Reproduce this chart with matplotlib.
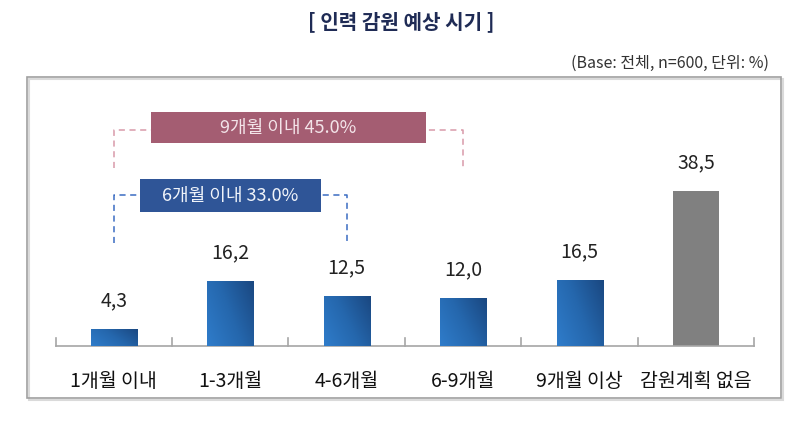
import matplotlib
matplotlib.use("Agg")
import matplotlib.pyplot as plt
import numpy as np
from matplotlib.patches import Rectangle
from matplotlib.colors import LinearSegmentedColormap

plt.rcParams['font.family'] = ['Noto Sans CJK KR', 'DejaVu Sans']

categories = ['1개월 이내', '1-3개월', '4-6개월', '6-9개월', '9개월 이상', '감원계획 없음']
values = [4.3, 16.2, 12.5, 12.0, 16.5, 38.5]
value_labels = ['4,3', '16,2', '12,5', '12,0', '16,5', '38,5']
title = '[ 인력 감원 예상 시기 ]'
note = '(Base: 전체, n=600, 단위: %)'
group9_label = '9개월 이내 45.0%'
group6_label = '6개월 이내 33.0%'

W, H = 803, 423
fig = plt.figure(figsize=(W / 100, H / 100), dpi=100)

def fx(px):
    return px / W

def fy(py):
    return 1 - py / H

# outer frame with soft shadow
frame_shadow = Rectangle((fx(29), fy(400)), fx(781) - fx(27), fy(77) - fy(398),
                         transform=fig.transFigure, fill=False, edgecolor='#DADADA', lw=1.5)
fig.patches.append(frame_shadow)
frame = Rectangle((fx(27), fy(398)), fx(781) - fx(27), fy(77) - fy(398),
                  transform=fig.transFigure, fill=False, edgecolor='#A0A0A0', lw=1.2)
fig.patches.append(frame)

# axes: baseline at y=346, x from 55.5 to 754.3
ax_left, ax_right = 55.5, 754.3
ax_bottom, ax_top = 346, 100
ax = fig.add_axes([fx(ax_left), fy(ax_bottom), fx(ax_right) - fx(ax_left), fy(ax_top) - fy(ax_bottom)])
ppu = 4.03
ax.patch.set_alpha(0)
for s in ['top', 'right', 'left']:
    ax.spines[s].set_visible(False)
ax.spines['bottom'].set_color('#A6A6A6')
ax.spines['bottom'].set_linewidth(1.2)
ax.set_yticks([])
ax.set_xticks([])

x = np.arange(len(values))
colors = ['#2E75C0'] * 5 + ['#808080']
bars = ax.bar(x, values, width=0.395, color=colors, edgecolor='none', zorder=2)

# gradient fill for blue bars
gx, gy = np.meshgrid(np.linspace(0, 1, 60), np.linspace(0, 1, 60))
grad = 0.65 * gx + 0.35 * gy
cmap = LinearSegmentedColormap.from_list('bb', ['#2F7CCA', '#2567AD', '#1A4780'])
for i, b in enumerate(bars):
    if i == 5:
        continue
    x0, w, h = b.get_x(), b.get_width(), b.get_height()
    im = ax.imshow(grad, cmap=cmap, extent=[x0, x0 + w, 0, h], origin='lower',
                   aspect='auto', zorder=3, interpolation='bilinear')
    im.set_clip_path(b)
ax.set_xlim(-0.5, len(values) - 0.5)
ax.set_ylim(0, (ax_bottom - ax_top) / ppu)

# ticks (upward) between categories
for t in np.arange(-0.5, len(values), 1.0):
    ax.plot([t, t], [0, 8 / ppu], color='#A6A6A6', lw=1.2, clip_on=False, zorder=1)

# value labels
for i, v in enumerate(values):
    ax.text(i, v + 28 / ppu, value_labels[i], ha='center', va='center', fontsize=14, color='#222222')

# category labels
for i, c in enumerate(categories):
    fig.text(fx(ax_left + (i + 0.5) * (ax_right - ax_left) / len(values)), fy(381), c,
             ha='center', va='center', fontsize=14, color='#111111')

def px2x(px):
    return (px - 113.7) / 116.5

def py2y(py):
    return (ax_bottom - py) / ppu

# 9-month bracket
pink = '#D99AAA'
yb = py2y(130)
ax.plot([0, 0, 3, 3], [py2y(168), yb, yb, py2y(168)], color=pink, lw=1.1, ls=(0, (4, 3)), zorder=1, clip_on=False)
ax.add_patch(Rectangle((px2x(151), py2y(143)), px2x(426) - px2x(151), py2y(112) - py2y(143),
                       facecolor='#A45D72', edgecolor='none', zorder=4))
ax.text((px2x(151) + px2x(426)) / 2, py2y(128), group9_label, ha='center', va='center',
        fontsize=13, color='#F3E4E9', zorder=5)

# 6-month bracket
blue = '#3B6CC2'
yb = py2y(195)
ax.plot([0, 0, 2, 2], [py2y(243), yb, yb, py2y(243)], color=blue, lw=1.1, ls=(0, (4, 3)), zorder=1, clip_on=False)
ax.add_patch(Rectangle((px2x(140), py2y(212)), px2x(321) - px2x(140), py2y(179) - py2y(212),
                       facecolor='#2F5597', edgecolor='none', zorder=4))
ax.text((px2x(140) + px2x(321)) / 2, py2y(196), group6_label, ha='center', va='center',
        fontsize=13, color='#F0F4FA', zorder=5)

# title and note
fig.text(fx(401), fy(22), title, ha='center', va='center', fontsize=14.5, fontweight='bold', color='#1F2B55')
fig.text(fx(769), fy(63), note, ha='right', va='center', fontsize=11.5, color='#333333')

fig.savefig('out.png', dpi=100)
